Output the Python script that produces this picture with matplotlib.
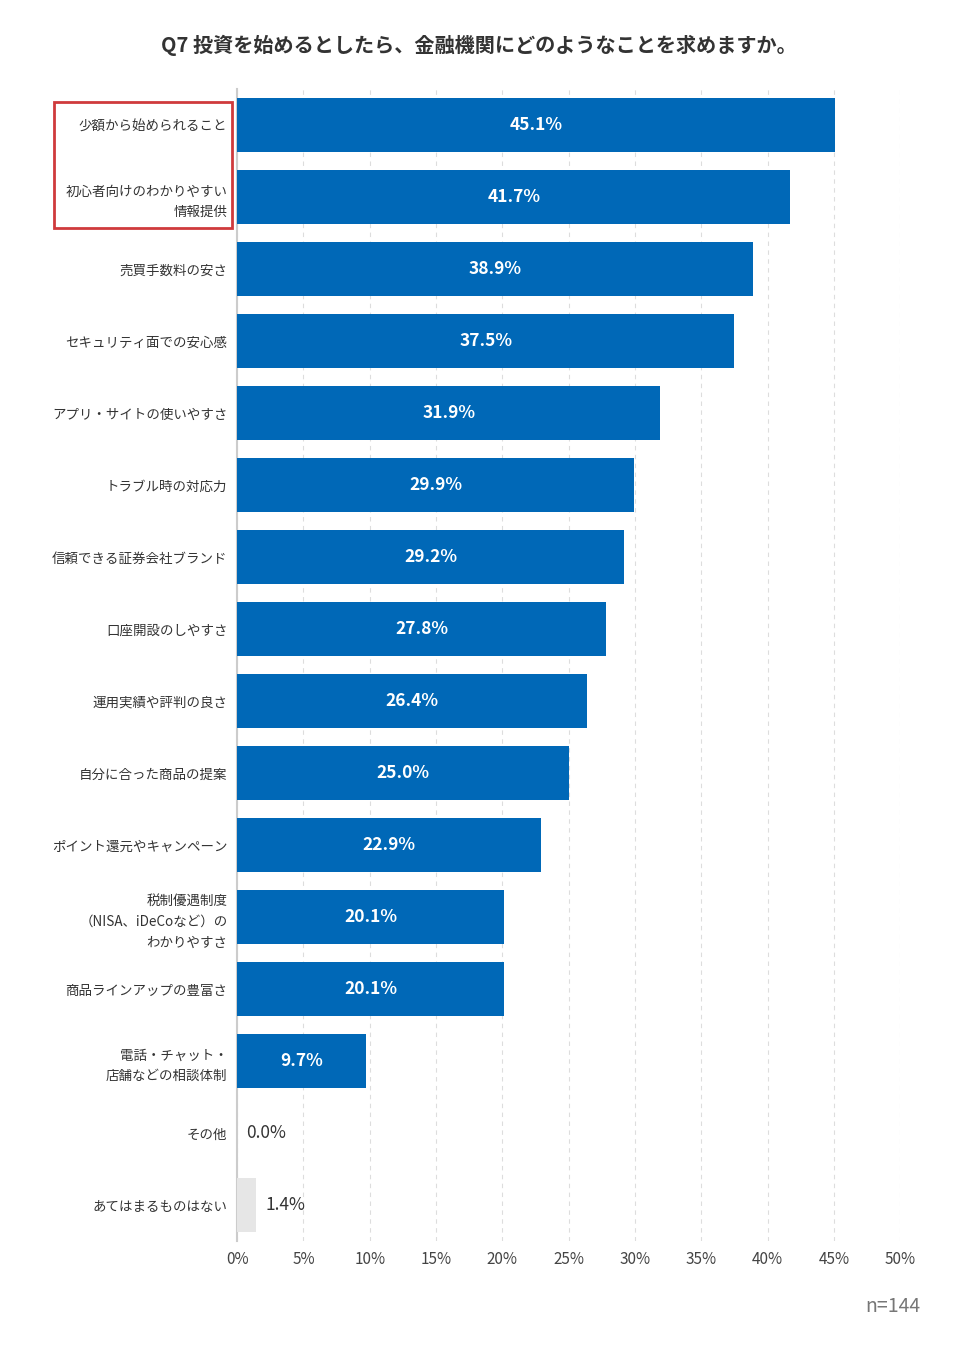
import matplotlib.pyplot as plt
from matplotlib.patches import Rectangle

plt.rcParams['font.family'] = ['Noto Sans CJK JP', 'DejaVu Sans']

# --- Data ---
labels = [
    '少額から始められること',
    '初心者向けのわかりやすい\n情報提供',
    '売買手数料の安さ',
    'セキュリティ面での安心感',
    'アプリ・サイトの使いやすさ',
    'トラブル時の対応力',
    '信頼できる証券会社ブランド',
    '口座開設のしやすさ',
    '運用実績や評判の良さ',
    '自分に合った商品の提案',
    'ポイント還元やキャンペーン',
    '税制優遇制度\n（NISA、iDeCoなど）の\nわかりやすさ',
    '商品ラインアップの豊富さ',
    '電話・チャット・\n店舗などの相談体制',
    'その他',
    'あてはまるものはない',
]
values = [45.1, 41.7, 38.9, 37.5, 31.9, 29.9, 29.2, 27.8, 26.4, 25.0, 22.9, 20.1, 20.1, 9.7, 0.0, 1.4]
xticks = [0, 5, 10, 15, 20, 25, 30, 35, 40, 45, 50]

blue = '#0068b7'
gray_bar = '#e6e6e6'
colors = [blue] * 14 + [gray_bar, gray_bar]

fig = plt.figure(figsize=(9.68, 13.5), dpi=100)
ax = fig.add_axes([0.245, 1 - 1241 / 1350, 0.930 - 0.245, (1241 - 89) / 1350])

ypos = list(range(len(labels)))
ax.barh(ypos, values, height=0.76, color=colors, zorder=3)
ax.set_ylim(len(labels) - 0.5, -0.5)
ax.set_xlim(0, 50)

# value labels
for y, v in zip(ypos, values):
    if v >= 5:
        ax.text(v / 2, y, f'{v:.1f}%', ha='center', va='center', color='white',
                fontsize=12.5, fontweight='bold', zorder=4)
    else:
        ax.text(v + 0.7, y, f'{v:.1f}%', ha='left', va='center', color='#333333',
                fontsize=12.5, zorder=4)

ax.set_yticks(ypos)
ax.set_yticklabels(labels, fontsize=9.7, color='#333333', linespacing=1.6)
ax.set_xticks(xticks)
ax.set_xticklabels([f'{t}%' for t in xticks], fontsize=11, color='#444444')
ax.tick_params(axis='both', length=0)
ax.tick_params(axis='y', pad=7)
ax.tick_params(axis='x', pad=7)

ax.grid(axis='x', color='#dddddd', linestyle=(0, (4, 4)), linewidth=0.8, zorder=0)
for s in ['top', 'right', 'bottom']:
    ax.spines[s].set_visible(False)
ax.spines['left'].set_color('#cccccc')
ax.spines['left'].set_linewidth(1.5)

# red highlight box around the top two labels
fig.patches.append(Rectangle((54 / 968, 1 - 228 / 1350), (232 - 54) / 968, (228 - 102) / 1350,
                             transform=fig.transFigure, fill=False,
                             edgecolor='#cf3a3c', linewidth=2))

fig.text(0.495, 1 - 45 / 1350, 'Q7 投資を始めるとしたら、金融機関にどのようなことを求めますか。',
         ha='center', va='center', fontsize=14.5, fontweight='bold', color='#333333')
fig.text(920 / 968, 1 - 1307 / 1350, 'n=144', ha='right', va='center',
         fontsize=14, color='#777777')

plt.savefig('out.png', dpi=100)
